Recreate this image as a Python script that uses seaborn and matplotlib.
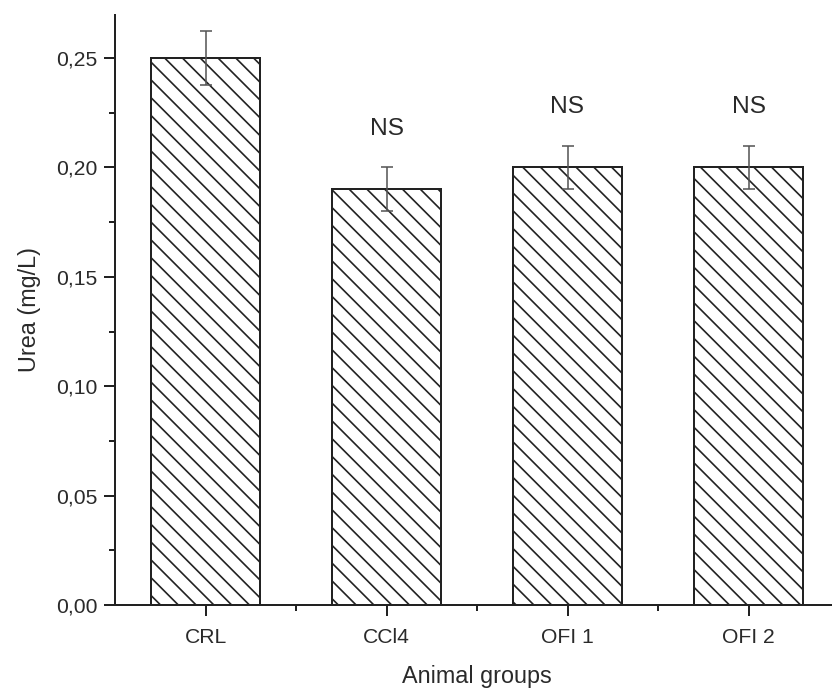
import matplotlib
matplotlib.use("Agg")
import matplotlib.pyplot as plt
import seaborn as sns
import numpy as np
from matplotlib.ticker import MultipleLocator, FixedLocator, FuncFormatter

groups = ["CRL", "CCl4", "OFI 1", "OFI 2"]
urea = [0.25, 0.19, 0.20, 0.20]
err = [0.0125, 0.01, 0.01, 0.01]
labels = ["", "NS", "NS", "NS"]

sns.set_style("ticks")
plt.rcParams['font.family'] = ['Liberation Sans', 'DejaVu Sans']
plt.rcParams['hatch.linewidth'] = 0.75
plt.rcParams['hatch.color'] = '#222222'

DPI = 160
fig = plt.figure(figsize=(832 / DPI, 690 / DPI), dpi=DPI)
ax = fig.add_axes([115 / 832, 1 - 605 / 690, 724 / 832, 590 / 690])

sns.barplot(x=groups, y=urea, color="white", edgecolor="#222222", linewidth=0.9,
            width=0.6, ax=ax, errorbar=None)
for p in ax.patches:
    p.set_hatch("\\\\\\")
    p.set_facecolor("white")
    p.set_edgecolor("#222222")

xpos = np.arange(len(groups))
ax.errorbar(xpos, urea, yerr=err, fmt="none", ecolor="#555555", elinewidth=0.7,
            capsize=2.7, capthick=0.7)

for x, v, e, t in zip(xpos, urea, err, labels):
    if t:
        ax.text(x, v + e + 0.0175, t, ha="center", va="center", fontsize=11, color="#2a2a2a")

ax.set_xlim(-0.5, 3.5)
ax.set_ylim(0, 0.2697)
ax.yaxis.set_major_locator(MultipleLocator(0.05))
ax.yaxis.set_minor_locator(MultipleLocator(0.025))
ax.yaxis.set_major_formatter(FuncFormatter(lambda v, p: f"{v:.2f}".replace(".", ",")))
ax.xaxis.set_minor_locator(FixedLocator([0.5, 1.5, 2.5]))

sns.despine(ax=ax)
for s in ["left", "bottom"]:
    ax.spines[s].set_linewidth(0.9)
    ax.spines[s].set_color("#222222")

ax.tick_params(which="major", direction="out", length=5, width=0.9, color="#222222",
               labelsize=9.5, labelcolor="#2a2a2a", pad=3)
ax.tick_params(axis="x", which="major", pad=5.5)
ax.tick_params(which="minor", direction="out", length=2.5, width=0.9, color="#222222")

ax.set_xlabel("Animal groups", fontsize=10.5, color="#2a2a2a", labelpad=8)
ax.set_ylabel("Urea (mg/L)", fontsize=10.5, color="#2a2a2a", labelpad=6.5)

fig.savefig("out.png", dpi=DPI, facecolor="white")
